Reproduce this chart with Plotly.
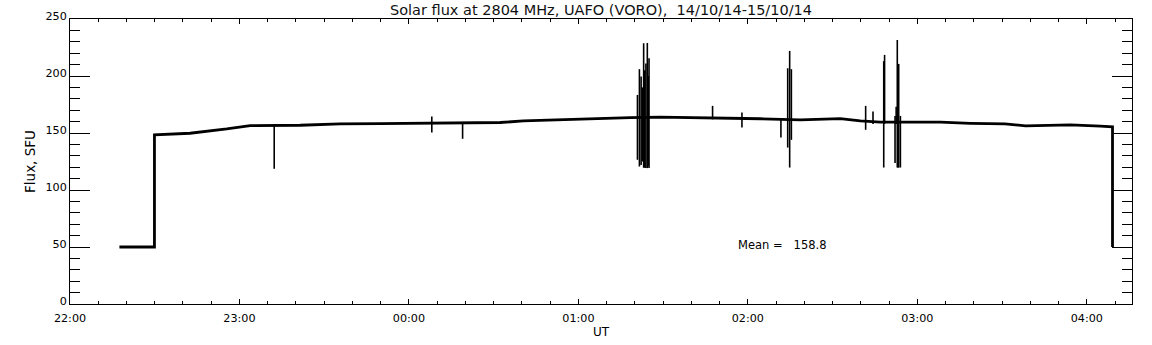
import pandas as pd
import plotly.graph_objects as go

# ---- data (minutes after 2014-10-14 22:00 UT, flux in SFU) ----
base_minutes = [17.5, 29.9, 29.9, 42.5, 55.5, 60.2, 63.8, 81.5, 95.6, 109.8, 128.0,
                141.7, 152.3, 160.5, 177.0, 198.4, 209.0, 223.0, 237.0, 244.4,
                258.6, 272.7, 279.8, 286.9, 294.0, 308.2, 318.8, 329.4, 331.0,
                338.3, 347.1, 354.2, 364.8, 369.1, 369.1]
base_flux = [50, 50, 148.4, 149.8, 153.6, 155.5, 156.5, 156.8, 158.0, 158.3, 158.6,
             158.6, 159.2, 160.6, 162.1, 163.5, 163.9, 163.5, 162.8, 162.5,
             161.5, 162.6, 160.6, 159.5, 159.5, 159.5, 158.5, 157.5, 158.0,
             156.3, 156.5, 157.1, 156.0, 155.5, 50]

spike_minutes = [72.3, 128.1, 139.0,
                 200.9, 201.6, 202.2, 202.6, 203.1, 203.5, 203.9, 204.4, 204.7, 205.0,
                 227.5, 237.9, 251.7, 254.1, 254.8, 255.4,
                 281.7, 284.3, 288.1, 288.4, 292.1, 292.5, 292.9, 293.2, 293.4, 294.0]
spike_low = [118.6, 150.4, 144.9,
             126.5, 120.6, 122.0, 125.0, 119.5, 119.5, 119.2, 119.2, 121.0, 119.2,
             162.0, 154.8, 146.0, 137.2, 119.7, 144.0,
             152.8, 158.0, 119.7, 158.0, 123.6, 158.0, 119.7, 119.7, 119.7, 119.7]
spike_high = [156.5, 164.4, 158.6,
              183.4, 206.0, 199.5, 190.0, 228.7, 205.0, 211.0, 229.0, 200.0, 215.6,
              173.8, 168.0, 162.0, 206.8, 222.0, 206.0,
              173.8, 168.8, 213.0, 218.5, 165.0, 173.0, 231.6, 182.0, 210.6, 165.0]

mean_value = 158.8
t0 = pd.Timestamp("2014-10-14 22:00")


def to_time(m):
    return t0 + pd.to_timedelta(m, unit="m")


bx = [to_time(m) for m in base_minutes]
sx, sy = [], []
for m, lo, hi in zip(spike_minutes, spike_low, spike_high):
    t = to_time(m)
    sx += [t, t, None]
    sy += [lo, hi, None]

FONT = "DejaVu Sans"
fig = go.Figure()
fig.add_trace(go.Scatter(x=bx, y=base_flux, mode="lines",
                         line=dict(color="black", width=2.8), showlegend=False))
fig.add_trace(go.Scatter(x=sx, y=sy, mode="lines", connectgaps=False,
                         line=dict(color="black", width=1.6), showlegend=False))

fig.add_annotation(x=to_time(236.0), y=52.0, xref="x", yref="y",
                   text="Mean =\u00a0\u00a0 " + f"{mean_value:.1f}",
                   showarrow=False, xanchor="left", yanchor="middle", borderpad=0,
                   font=dict(family=FONT, size=11.5, color="black"))

fig.update_layout(
    width=1152, height=345,
    margin=dict(l=70, r=20, t=19, b=41, autoexpand=False),
    paper_bgcolor="white", plot_bgcolor="white",
    font=dict(family=FONT, size=11.5, color="black"),
    title=dict(text="Solar flux at 2804 MHz, UAFO (VORO),\u00a0\u00a014/10/14-15/10/14",
               x=0.5217, xanchor="center", y=0.985, yanchor="top",
               font=dict(family=FONT, size=14.5, color="#111111")),
    xaxis=dict(type="date", automargin=False,
               range=[to_time(0), to_time(376.0)],
               tick0=to_time(0), dtick=3600000, tickformat="%H:%M",
               ticks="inside", ticklen=5, tickwidth=1, tickcolor="black",
               minor=dict(dtick=600000, ticks="inside", ticklen=3, tickcolor="black", showgrid=False),
               showline=True, linecolor="black", linewidth=1, mirror="allticks",
               showgrid=False, zeroline=False, ticklabelstandoff=4,
               title=dict(text="UT", standoff=0, font=dict(family=FONT, size=12)),
               tickfont=dict(family=FONT, size=11.2)),
    yaxis=dict(range=[0, 250], dtick=50, tick0=0, automargin=False,
               ticks="inside", ticklen=20, tickwidth=1, tickcolor="black",
               minor=dict(dtick=10, ticks="inside", ticklen=10, tickcolor="black", showgrid=False),
               showline=True, linecolor="black", linewidth=1, mirror="allticks",
               showgrid=False, zeroline=False, ticklabelshift=-3,
               title=dict(text="Flux, SFU", standoff=6, font=dict(family=FONT, size=13.5)),
               tickfont=dict(family=FONT, size=11.2)),
)

fig.write_html("out.html", config={"displayModeBar": False},
               post_script="document.body.style.margin='0';")
